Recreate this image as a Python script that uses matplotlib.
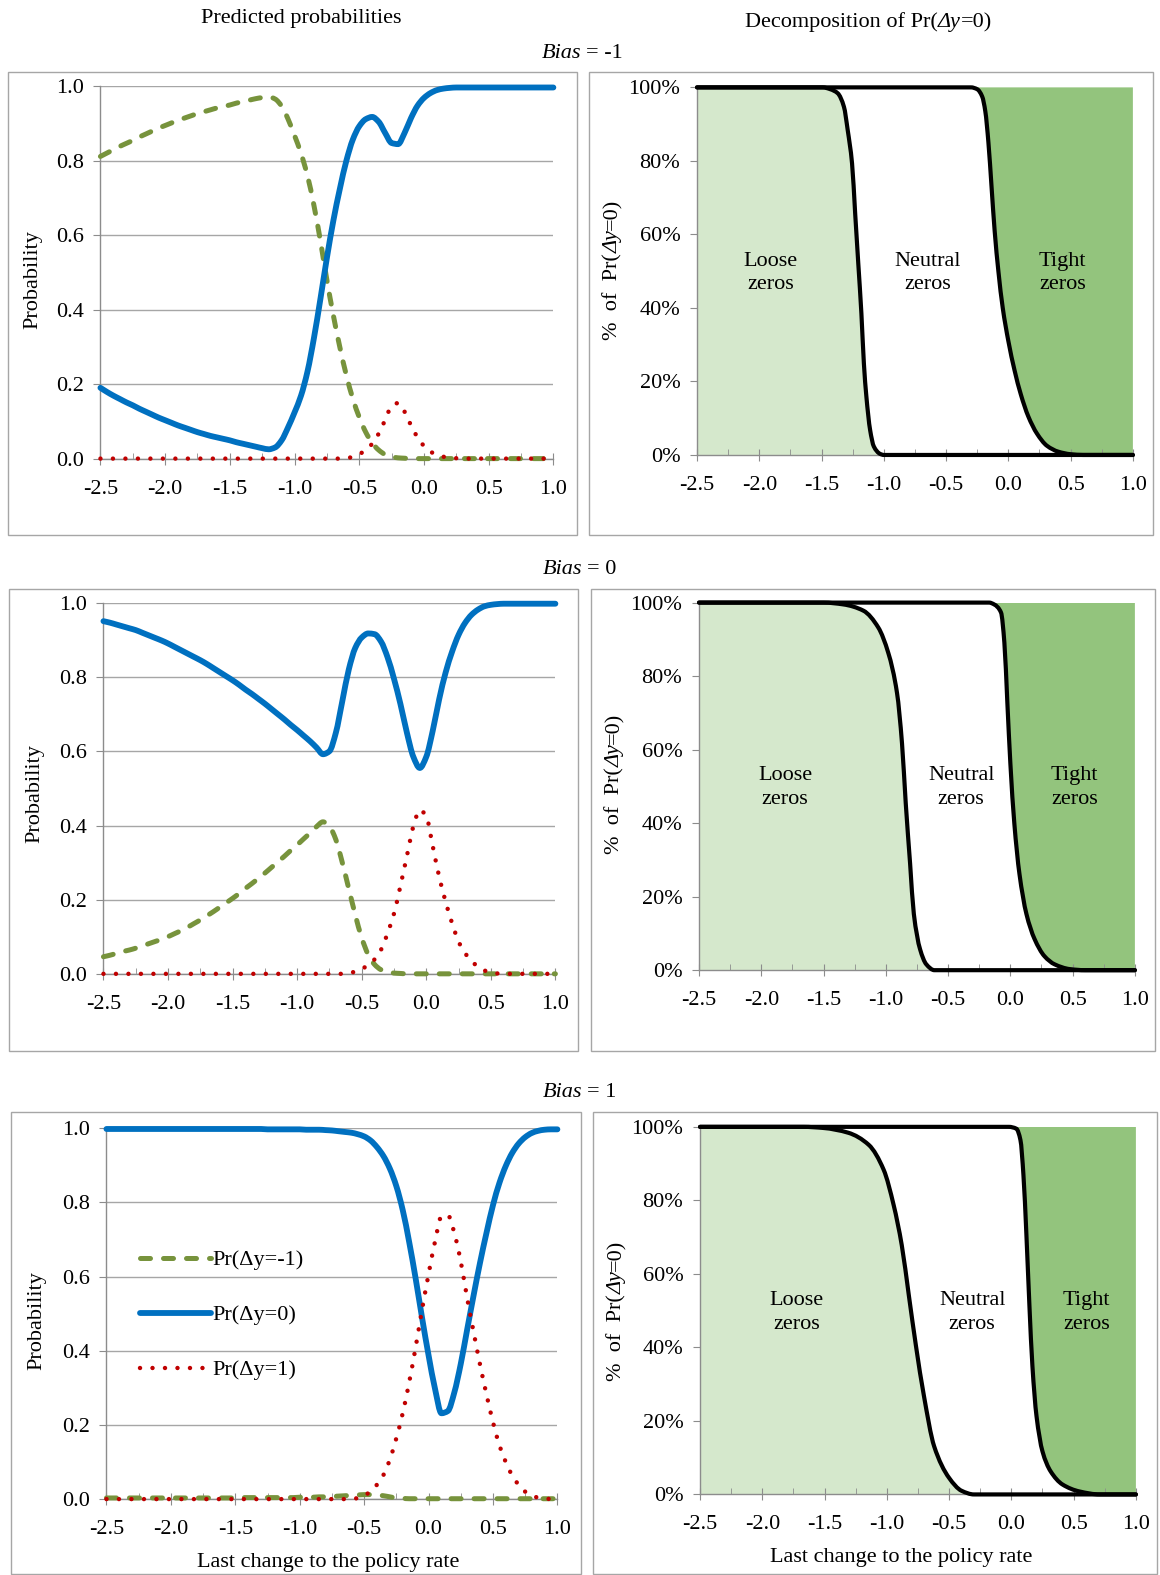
import numpy as np
import matplotlib
matplotlib.use("Agg")
import matplotlib.pyplot as plt
from matplotlib.patches import Rectangle, PathPatch
from matplotlib.path import Path
from matplotlib.lines import Line2D
from matplotlib.ticker import MultipleLocator

plt.rcParams['font.family'] = ['Liberation Serif', 'DejaVu Serif']
plt.rcParams['font.size'] = 16

# ---------------- data ----------------
X = [-2.5, -2.45, -2.4, -2.35, -2.3, -2.25, -2.2, -2.15, -2.1, -2.05,
     -2.0, -1.95, -1.9, -1.85, -1.8, -1.75, -1.7, -1.65, -1.6, -1.55,
     -1.5, -1.45, -1.4, -1.35, -1.3, -1.25, -1.2, -1.15, -1.1, -1.05,
     -1.0, -0.95, -0.9, -0.85, -0.8, -0.75, -0.7, -0.65, -0.6, -0.55,
     -0.5, -0.45, -0.4, -0.35, -0.3, -0.25, -0.2, -0.15, -0.1, -0.05,
     0.0, 0.05, 0.1, 0.15, 0.2, 0.25, 0.3, 0.35, 0.4, 0.45,
     0.5, 0.55, 0.6, 0.65, 0.7, 0.75, 0.8, 0.85, 0.9, 0.95,
     1.0]

# Bias = -1
neg_m1 = [0.812, 0.821, 0.830, 0.839, 0.847, 0.855, 0.864, 0.872, 0.880, 0.888,
          0.895, 0.902, 0.909, 0.915, 0.921, 0.927, 0.932, 0.937, 0.942, 0.946,
          0.950, 0.955, 0.959, 0.963, 0.967, 0.970, 0.972, 0.966, 0.947, 0.912,
          0.868, 0.820, 0.760, 0.680, 0.585, 0.480, 0.385, 0.300, 0.225, 0.162,
          0.112, 0.072, 0.043, 0.024, 0.012, 0.006, 0.003, 0.002, 0.001, 0.001,
          0.001, 0.001, 0.001, 0.001, 0.001, 0.001, 0.001, 0.001, 0.001, 0.001,
          0.001, 0.001, 0.001, 0.001, 0.001, 0.001, 0.001, 0.001, 0.001, 0.001,
          0.001]
zero_m1 = [0.191, 0.180, 0.170, 0.161, 0.152, 0.144, 0.135, 0.127, 0.119, 0.111,
           0.104, 0.097, 0.090, 0.084, 0.078, 0.072, 0.067, 0.062, 0.058, 0.054,
           0.050, 0.045, 0.041, 0.037, 0.033, 0.029, 0.026, 0.031, 0.050, 0.085,
           0.125, 0.170, 0.235, 0.325, 0.430, 0.540, 0.640, 0.725, 0.800, 0.857,
           0.893, 0.912, 0.918, 0.905, 0.875, 0.848, 0.845, 0.875, 0.915, 0.948,
           0.969, 0.982, 0.990, 0.994, 0.996, 0.997, 0.997, 0.997, 0.997, 0.997,
           0.997, 0.997, 0.997, 0.997, 0.997, 0.997, 0.997, 0.997, 0.997, 0.997,
           0.997]
pos_m1 = [0.001, 0.001, 0.001, 0.001, 0.001, 0.001, 0.001, 0.001, 0.001, 0.001,
          0.001, 0.001, 0.001, 0.001, 0.001, 0.001, 0.001, 0.001, 0.001, 0.001,
          0.001, 0.001, 0.001, 0.001, 0.001, 0.001, 0.001, 0.001, 0.001, 0.001,
          0.001, 0.001, 0.001, 0.001, 0.001, 0.001, 0.001, 0.001, 0.002, 0.006,
          0.013, 0.024, 0.041, 0.068, 0.105, 0.142, 0.150, 0.127, 0.090, 0.058,
          0.035, 0.020, 0.011, 0.006, 0.004, 0.002, 0.001, 0.001, 0.001, 0.001,
          0.001, 0.001, 0.001, 0.001, 0.001, 0.001, 0.001, 0.001, 0.001, 0.001,
          0.001]

# Bias = 0
neg_0 = [0.047, 0.051, 0.056, 0.061, 0.065, 0.070, 0.076, 0.082, 0.088, 0.094,
         0.101, 0.109, 0.117, 0.126, 0.136, 0.146, 0.157, 0.168, 0.180, 0.192,
         0.204, 0.217, 0.231, 0.244, 0.258, 0.272, 0.287, 0.302, 0.317, 0.333,
         0.348, 0.364, 0.380, 0.397, 0.410, 0.398, 0.362, 0.300, 0.230, 0.160,
         0.098, 0.053, 0.026, 0.012, 0.006, 0.003, 0.002, 0.001, 0.001, 0.001,
         0.001, 0.001, 0.001, 0.001, 0.001, 0.001, 0.001, 0.001, 0.001, 0.001,
         0.001, 0.001, 0.001, 0.001, 0.001, 0.001, 0.001, 0.001, 0.001, 0.001,
         0.001]
zero_0 = [0.950, 0.946, 0.941, 0.936, 0.931, 0.926, 0.919, 0.912, 0.905, 0.898,
          0.890, 0.881, 0.872, 0.863, 0.854, 0.845, 0.835, 0.824, 0.813, 0.802,
          0.791, 0.779, 0.766, 0.754, 0.741, 0.728, 0.714, 0.700, 0.686, 0.671,
          0.657, 0.642, 0.627, 0.610, 0.592, 0.600, 0.650, 0.735, 0.820, 0.878,
          0.906, 0.917, 0.915, 0.895, 0.853, 0.795, 0.727, 0.650, 0.585, 0.555,
          0.585, 0.655, 0.740, 0.812, 0.868, 0.913, 0.945, 0.967, 0.981, 0.990,
          0.994, 0.996, 0.997, 0.997, 0.997, 0.997, 0.997, 0.997, 0.997, 0.997,
          0.997]
pos_0 = [0.001, 0.001, 0.001, 0.001, 0.001, 0.001, 0.001, 0.001, 0.001, 0.001,
         0.001, 0.001, 0.001, 0.001, 0.001, 0.001, 0.001, 0.001, 0.001, 0.001,
         0.001, 0.001, 0.001, 0.001, 0.001, 0.001, 0.001, 0.001, 0.001, 0.001,
         0.001, 0.001, 0.001, 0.001, 0.001, 0.001, 0.001, 0.001, 0.003, 0.007,
         0.014, 0.025, 0.040, 0.066, 0.110, 0.163, 0.238, 0.318, 0.398, 0.442,
         0.425, 0.345, 0.262, 0.195, 0.137, 0.088, 0.057, 0.036, 0.020, 0.010,
         0.005, 0.002, 0.001, 0.001, 0.001, 0.001, 0.001, 0.001, 0.001, 0.001,
         0.001]

# Bias = 1
neg_p1 = [0.004, 0.004, 0.004, 0.004, 0.004, 0.004, 0.004, 0.004, 0.004, 0.004,
          0.004, 0.004, 0.004, 0.004, 0.004, 0.004, 0.004, 0.004, 0.004, 0.004,
          0.004, 0.005, 0.005, 0.005, 0.005, 0.005, 0.005, 0.005, 0.005, 0.005,
          0.006, 0.006, 0.006, 0.007, 0.007, 0.008, 0.009, 0.010, 0.011, 0.012,
          0.013, 0.013, 0.012, 0.010, 0.007, 0.004, 0.003, 0.002, 0.002, 0.002,
          0.002, 0.002, 0.002, 0.002, 0.002, 0.002, 0.002, 0.002, 0.002, 0.002,
          0.002, 0.002, 0.002, 0.002, 0.002, 0.002, 0.002, 0.002, 0.002, 0.002,
          0.002]
zero_p1 = [0.997, 0.997, 0.997, 0.997, 0.997, 0.997, 0.997, 0.997, 0.997, 0.997,
           0.997, 0.997, 0.997, 0.997, 0.997, 0.997, 0.997, 0.997, 0.997, 0.997,
           0.997, 0.997, 0.997, 0.997, 0.997, 0.996, 0.996, 0.996, 0.996, 0.996,
           0.996, 0.995, 0.995, 0.995, 0.994, 0.993, 0.991, 0.989, 0.987, 0.983,
           0.977, 0.966, 0.948, 0.924, 0.890, 0.843, 0.778, 0.692, 0.594, 0.488,
           0.388, 0.298, 0.232, 0.238, 0.288, 0.365, 0.458, 0.550, 0.638, 0.718,
           0.792, 0.852, 0.898, 0.933, 0.958, 0.975, 0.986, 0.992, 0.995, 0.996,
           0.996]
pos_p1 = [0.001, 0.001, 0.001, 0.001, 0.001, 0.001, 0.001, 0.001, 0.001, 0.001,
          0.001, 0.001, 0.001, 0.001, 0.001, 0.001, 0.001, 0.001, 0.001, 0.001,
          0.001, 0.001, 0.001, 0.001, 0.001, 0.001, 0.001, 0.001, 0.001, 0.001,
          0.001, 0.001, 0.001, 0.001, 0.001, 0.001, 0.001, 0.001, 0.001, 0.004,
          0.010, 0.022, 0.040, 0.066, 0.108, 0.165, 0.233, 0.316, 0.410, 0.512,
          0.606, 0.694, 0.762, 0.765, 0.717, 0.640, 0.541, 0.450, 0.362, 0.282,
          0.208, 0.146, 0.100, 0.064, 0.039, 0.021, 0.011, 0.005, 0.003, 0.001,
          0.001]

# Decomposition of Pr(dy=0): loose share, and loose+neutral share
loose_x_m1 = [-2.5, -1.49, -1.43, -1.37, -1.32, -1.29, -1.255, -1.23, -1.205, -1.18,
              -1.16, -1.14, -1.11, -1.08, -1.03, -1.0, 1.0]
loose_y_m1 = [1.0, 1.0, 0.995, 0.984, 0.947, 0.884, 0.793, 0.657, 0.521, 0.385,
              0.249, 0.159, 0.068, 0.023, 0.003, 0.0, 0.0]
cum_x_m1 = [-2.5, -0.30, -0.25, -0.21, -0.185, -0.16, -0.135, -0.11, -0.08, -0.045,
            0.0, 0.05, 0.10, 0.16, 0.23, 0.31, 0.40, 0.50, 0.60, 1.0]
cum_y_m1 = [1.0, 1.0, 0.995, 0.975, 0.935, 0.85, 0.73, 0.61, 0.50, 0.40,
            0.31, 0.23, 0.165, 0.105, 0.058, 0.025, 0.009, 0.002, 0.0, 0.0]

loose_x_0 = [-2.5, -1.50, -1.34, -1.18, -1.06, -0.98, -0.91, -0.87, -0.84, -0.805,
             -0.775, -0.725, -0.675, -0.61, 1.0]
loose_y_0 = [1.0, 1.0, 0.995, 0.978, 0.932, 0.863, 0.754, 0.617, 0.454, 0.290,
             0.153, 0.057, 0.016, 0.0, 0.0]
cum_x_0 = [-2.5, -0.17, -0.13, -0.075, -0.048, -0.024, 0.0, 0.032, 0.073, 0.129,
           0.194, 0.274, 0.355, 0.476, 0.6, 1.0]
cum_y_0 = [1.0, 1.0, 0.995, 0.973, 0.891, 0.727, 0.563, 0.399, 0.262, 0.153,
           0.085, 0.038, 0.016, 0.003, 0.0, 0.0]

loose_x_p1 = [-2.5, -1.67, -1.51, -1.31, -1.145, -1.025, -0.945, -0.88, -0.823, -0.766,
              -0.702, -0.62, -0.50, -0.40, -0.30, 1.0]
loose_y_p1 = [1.0, 1.0, 0.997, 0.984, 0.951, 0.883, 0.787, 0.678, 0.541, 0.404,
              0.268, 0.131, 0.045, 0.010, 0.0, 0.0]
cum_x_p1 = [-2.5, -0.02, 0.04, 0.073, 0.097, 0.121, 0.145, 0.169, 0.202, 0.25,
            0.315, 0.411, 0.548, 0.71, 1.0]
cum_y_p1 = [1.0, 1.0, 0.995, 0.964, 0.869, 0.705, 0.514, 0.350, 0.213, 0.117,
            0.063, 0.027, 0.008, 0.0, 0.0]

x_ticks = [-2.5, -2.0, -1.5, -1.0, -0.5, 0.0, 0.5, 1.0]
x_tick_labels = ['-2.5', '-2.0', '-1.5', '-1.0', '-0.5', '0.0', '0.5', '1.0']
y_ticks = [0.0, 0.2, 0.4, 0.6, 0.8, 1.0]
prob_labels = ['0.0', '0.2', '0.4', '0.6', '0.8', '1.0']
pct_labels = ['0%', '20%', '40%', '60%', '80%', '100%']
series_labels = ['Pr(Δy=-1)', 'Pr(Δy=0)', 'Pr(Δy=1)']
region_labels = ['Loose\nzeros', 'Neutral\nzeros', 'Tight\nzeros']

# ---------------- styling ----------------
BLUE = '#0070C0'
GREEN = '#77933C'
RED = '#C00000'
LIGHT = '#D5E8CC'
DARK = '#93C47D'
GRID = '#A6A6A6'
AXC = '#8C8C8C'

GREEN_STYLE = dict(color=GREEN, lw=3.6, ls=(0, (2.0, 2.6)))
BLUE_STYLE = dict(color=BLUE, lw=4.2, ls='-')
RED_STYLE = dict(color=RED, lw=3.2, ls=(0, (0.01, 2.8)))

W, H = 1160, 1575
S = 1160 / 1155.0

fig = plt.figure(figsize=(W / 100, H / 100), dpi=100)


def fx(px):
    return px * S / W


def fy(py):
    return 1 - py * S / H


def add_axes(x0, y0, x1, y1):
    return fig.add_axes([fx(x0), fy(y1), fx(x1) - fx(x0), fy(y0) - fy(y1)])


def box(x0, y0, x1, y1):
    fig.add_artist(Rectangle((fx(x0), fy(y1)), fx(x1) - fx(x0), fy(y0) - fy(y1),
                             transform=fig.transFigure, fill=False,
                             ec=GRID, lw=1.0))


def smooth_path(xs, ys):
    """Smoothed (monotone cubic Bezier) path through the given points."""
    x = np.asarray(xs, float)
    y = np.asarray(ys, float)
    h = np.diff(x)
    d = np.diff(y) / h
    n = len(x)
    m = np.zeros(n)
    m[0] = d[0]
    m[-1] = d[-1]
    for k in range(1, n - 1):
        if d[k - 1] * d[k] <= 0:
            m[k] = 0.0
        else:
            w1 = 2 * h[k] + h[k - 1]
            w2 = h[k] + 2 * h[k - 1]
            m[k] = (w1 + w2) / (w1 / d[k - 1] + w2 / d[k])
    verts = [(x[0], y[0])]
    codes = [Path.MOVETO]
    for i in range(n - 1):
        verts += [(x[i] + h[i] / 3, y[i] + m[i] * h[i] / 3),
                  (x[i + 1] - h[i] / 3, y[i + 1] - m[i + 1] * h[i] / 3),
                  (x[i + 1], y[i + 1])]
        codes += [Path.CURVE4] * 3
    return verts, codes


def draw_curve(ax, xs, ys, color, lw, ls, z):
    v, c = smooth_path(xs, ys)
    p = PathPatch(Path(v, c), fill=False, edgecolor=color, lw=lw, linestyle=ls,
                  capstyle='round', joinstyle='round', clip_on=False, zorder=z)
    ax.add_patch(p)


def rich(cx, cy, pieces, rot=0, size=16, gap=0):
    r = fig.canvas.get_renderer()
    ts, ws = [], []
    for s, st in pieces:
        t = fig.text(0, 0, s, fontsize=size, fontstyle=st, ha='left',
                     va='baseline', rotation_mode='anchor')
        ws.append(t.get_window_extent(renderer=r).width + gap)
        ts.append(t)
    tot = sum(ws) - gap
    cxd = cx * S
    cyd = H - cy * S
    if rot == 0:
        x = cxd - tot / 2
        y = cyd - 7
        for t, w in zip(ts, ws):
            t.set_position((x / W, y / H))
            x += w
    else:
        x = cxd + 7
        y = cyd - tot / 2
        for t, w in zip(ts, ws):
            t.set_rotation(90)
            t.set_position((x / W, y / H))
            y += w


def common_x(ax):
    ax.set_xlim(-2.5, 1.0)
    ax.set_ylim(0, 1.0)
    ax.set_xticks(x_ticks)
    ax.set_xticklabels(x_tick_labels)
    ax.xaxis.set_minor_locator(MultipleLocator(0.25))
    for s in ['top', 'right']:
        ax.spines[s].set_visible(False)
    for s in ['left', 'bottom']:
        ax.spines[s].set_color(AXC)
        ax.spines[s].set_linewidth(1.0)
    ax.tick_params(axis='x', which='major', direction='inout', length=8,
                   color=AXC, pad=11, labelsize=16)
    ax.tick_params(axis='x', which='minor', direction='in', length=4, color=AXC)
    ax.tick_params(axis='y', length=5, color=AXC, pad=7, labelsize=16)
    ax.set_facecolor('white')


def prob_panel(box_px, ax_px, neg, zero, pos, ylab_xy, legend=False, xlabel_xy=None):
    box(*box_px)
    ax = add_axes(*ax_px)
    common_x(ax)
    ax.set_yticks(y_ticks)
    ax.set_yticklabels(prob_labels)
    ax.grid(axis='y', color=GRID, lw=1.0)
    ax.set_axisbelow(True)
    draw_curve(ax, X, neg, z=3, **GREEN_STYLE)
    draw_curve(ax, X, zero, z=4, **BLUE_STYLE)
    draw_curve(ax, X, pos, z=5, **RED_STYLE)
    rich(ylab_xy[0], ylab_xy[1], [('Probability', 'normal')], rot=90)
    if legend:
        handles = [Line2D([], [], dash_capstyle='round', solid_capstyle='round', **st)
                   for st in (GREEN_STYLE, BLUE_STYLE, RED_STYLE)]
        ax.legend(handles, series_labels, loc='upper left',
                  bbox_to_anchor=(0.075, 0.672), frameon=False, fontsize=16,
                  handlelength=3.2, handletextpad=0.05, labelspacing=1.55,
                  borderpad=0, borderaxespad=0)
    if xlabel_xy is not None:
        rich(xlabel_xy[0], xlabel_xy[1], [('Last change to the policy rate', 'normal')])
    return ax


def decomp_panel(box_px, ax_px, lx, ly, cx, cy, lab_pos, ylab_xy, xlabel_xy=None):
    box(*box_px)
    ax = add_axes(*ax_px)
    common_x(ax)
    ax.set_yticks(y_ticks)
    ax.set_yticklabels(pct_labels)
    # loose-zero area under the first boundary
    v, c = smooth_path(lx, ly)
    v = v + [(lx[0], 0.0), (lx[0], 0.0)]
    c = c + [Path.LINETO, Path.CLOSEPOLY]
    ax.add_patch(PathPatch(Path(v, c), facecolor=LIGHT, edgecolor='none', lw=0, zorder=1))
    # tight-zero area above the second boundary
    v, c = smooth_path(cx, cy)
    v = v + [(cx[-1], 1.0), (cx[-1], 1.0)]
    c = c + [Path.LINETO, Path.CLOSEPOLY]
    ax.add_patch(PathPatch(Path(v, c), facecolor=DARK, edgecolor='none', lw=0, zorder=1))
    draw_curve(ax, lx, ly, 'black', 3.0, '-', 4)
    draw_curve(ax, cx, cy, 'black', 3.0, '-', 4)
    for (tx, ty), lab in zip(lab_pos, region_labels):
        ax.text(tx, ty, lab, ha='center', va='center', fontsize=16,
                linespacing=1.33, multialignment='center', zorder=5)
    rich(ylab_xy[0], ylab_xy[1],
         [('%  of  Pr(', 'normal'), ('Δy', 'italic'), ('=0)', 'normal')], rot=90)
    if xlabel_xy is not None:
        rich(xlabel_xy[0], xlabel_xy[1], [('Last change to the policy rate', 'normal')])
    return ax


# headers
fig.text(fx(300), fy(18), 'Predicted probabilities', ha='center', va='center', fontsize=16)
rich(865, 20, [('Decomposition of Pr(', 'normal'), ('Δy', 'italic'), ('=0)', 'normal')])
rich(580, 51, [('Bias', 'italic'), ('= -1', 'normal')], gap=5)
rich(577, 565, [('Bias', 'italic'), ('= 0', 'normal')], gap=5)
rich(577, 1085, [('Bias', 'italic'), ('= 1', 'normal')], gap=5)

# row 1: Bias = -1
prob_panel((8, 72, 575, 533), (100, 86, 551, 457), neg_m1, zero_m1, pos_m1, (30, 278))
decomp_panel((586, 72, 1148, 533), (694, 87, 1128, 453),
             loose_x_m1, loose_y_m1, cum_x_m1, cum_y_m1,
             [(-1.91, 0.495), (-0.65, 0.495), (0.435, 0.495)], (608, 268))

# row 2: Bias = 0
prob_panel((9, 586, 576, 1046), (103, 600, 553, 970), neg_0, zero_0, pos_0, (32, 790))
decomp_panel((588, 586, 1150, 1046), (696, 600, 1130, 966),
             loose_x_0, loose_y_0, cum_x_0, cum_y_0,
             [(-1.81, 0.497), (-0.395, 0.497), (0.516, 0.497)], (610, 780))

# row 3: Bias = 1
prob_panel((11, 1107, 578, 1567), (106, 1123, 555, 1493), neg_p1, zero_p1, pos_p1,
           (34, 1315), legend=True, xlabel_xy=(327, 1553))
decomp_panel((590, 1107, 1152, 1567), (697, 1122, 1131, 1488),
             loose_x_p1, loose_y_p1, cum_x_p1, cum_y_p1,
             [(-1.726, 0.495), (-0.315, 0.495), (0.605, 0.495)], (612, 1305),
             xlabel_xy=(897, 1548))

fig.savefig('out.png', dpi=100)
